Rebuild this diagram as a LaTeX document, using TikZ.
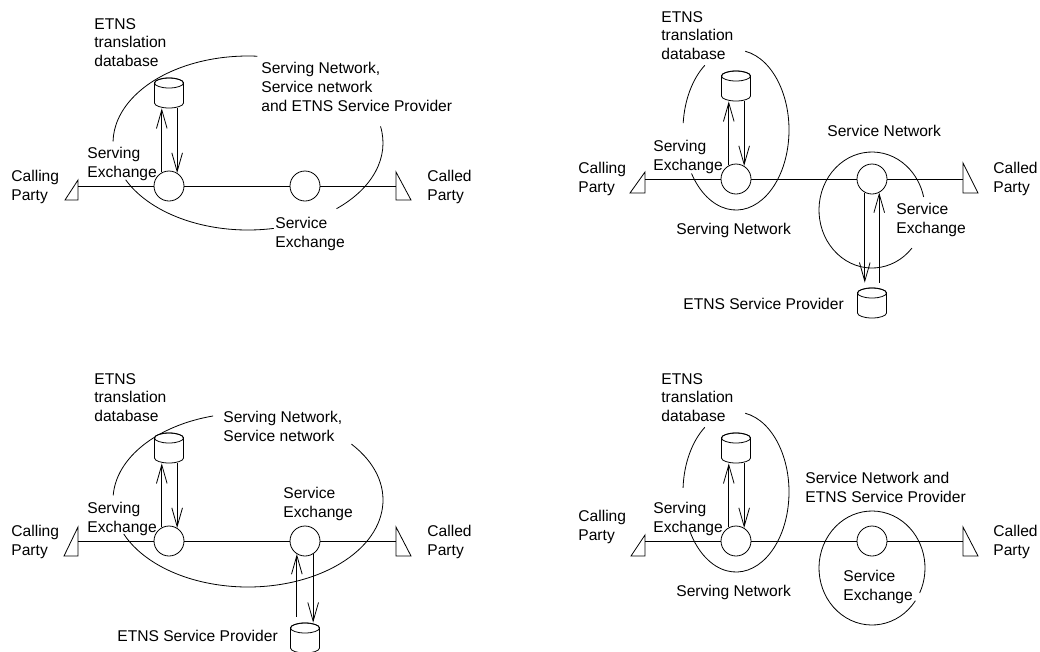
\documentclass[tikz,border=0pt]{standalone}
\usepackage{fontspec}
\setmainfont{Liberation Sans}
\usetikzlibrary{arrows.meta}

\tikzset{
	xchg/.style={circle,draw,fill=white,minimum size=22.5pt,inner sep=0pt},
	dbspot/.style={rectangle,minimum width=21.75pt,minimum height=22.5pt,inner sep=0pt},
	lbl/.style={anchor=north west,inner sep=0pt,align=left,font=\fontsize{11.7}{14}\selectfont},
	flow/.style={-{Straight Barb[length=14pt,width=8pt]}},
}

%Piece of an ellipse: centre (#1,#2), radii #3 and #4, from angle #5 to #6
\newcommand{\ringarc}[6]{\draw ([shift={(#5:#3 and #4)}]#1,#2) arc[start angle=#5,end angle=#6,x radius=#3,y radius=#4];}

%Database drum #1 centred at (#2,#3)
\newcommand{\drum}[3]{%
	\node[dbspot] (#1) at (#2,#3) {};
	\draw[fill=white] ([shift={(-14.5,-10)}]#1.center) -- ++(0,20)
		arc[start angle=180,end angle=0,x radius=14.5,y radius=5] -- ++(0,-20)
		arc[start angle=0,end angle=-180,x radius=14.5,y radius=5] -- cycle;
	\draw ([shift={(0,-10)}]#1.center) ellipse[x radius=14.5,y radius=5];}

\begin{document}
\begin{tikzpicture}[x=0.75pt,y=-0.75pt,line width=0.6pt]

	\useasboundingbox (0,0) rectangle (1040,651);

%%%%%%%%%%%%%%%%%%%%%%%%%%%%%%%%%%%%%%%%%%%%%%%%%%%%%%%%%%%%%%%%%%%%%%%%%
%	Case 1: one network does everything
%%%%%%%%%%%%%%%%%%%%%%%%%%%%%%%%%%%%%%%%%%%%%%%%%%%%%%%%%%%%%%%%%%%%%%%%%

	%Network boundary, broken where the texts are
	\ringarc{248}{143}{135}{87}{181}{274}
	\ringarc{248}{143}{135}{87}{-11}{49}
	\ringarc{248}{143}{135}{87}{79}{155}

	%Parties
	\coordinate (ca1) at (78,186);
	\coordinate (cd1) at (396,186);
	\draw (78,180) -- (78,200) -- (65,200) -- cycle;
	\draw (396,172) -- (396,200) -- (411,200) -- cycle;

	%Exchanges and database
	\node[xchg] (sx1) at (169,186) {};
	\node[xchg] (sv1) at (305,186) {};
	\drum{db1}{169}{93}
	\draw (ca1) -- (sx1) -- (sv1) -- (cd1);
	\draw[flow] (sx1.118) -- (sx1.118 |- db1.south);
	\draw[flow] (sx1.58 |- db1.south) -- (sx1.58);

	%Texts
	\node[lbl] (dbl1) at (94,18) {ETNS\\translation\\database};
	\node[lbl] (cgl1) at (11,170) {Calling\\Party};
	\node[lbl] (sxl1) at (87,147) {Serving\\Exchange};
	\node[lbl] (cdl1) at (427,170) {Called\\Party};
	\node[lbl] (netl1) at (261,62) {Serving Network,\\Service network\\and ETNS Service Provider};
	\node[lbl] (svl1) at (275,217) {Service\\Exchange};

%%%%%%%%%%%%%%%%%%%%%%%%%%%%%%%%%%%%%%%%%%%%%%%%%%%%%%%%%%%%%%%%%%%%%%%%%
%	Case 2: three separate parties
%%%%%%%%%%%%%%%%%%%%%%%%%%%%%%%%%%%%%%%%%%%%%%%%%%%%%%%%%%%%%%%%%%%%%%%%%

	%Serving network and service network
	\ringarc{736}{130}{53}{80}{-80}{147}
	\ringarc{736}{130}{53}{80}{185}{234}
	\ringarc{872}{210}{53}{58}{41}{347}

	%Parties
	\coordinate (ca2) at (645,179);
	\coordinate (cd2) at (963,179);
	\draw (645,172) -- (645,193) -- (630,193) -- cycle;
	\draw (963,163) -- (963,193) -- (978,193) -- cycle;

	%Exchanges and databases
	\node[xchg] (sx2) at (736,179) {};
	\node[xchg] (sv2) at (872,179) {};
	\drum{db2}{736}{86}
	\drum{sp2}{872}{303}
	\draw (ca2) -- (sx2) -- (sv2) -- (cd2);
	\draw[flow] (sx2.118) -- (sx2.118 |- db2.south);
	\draw[flow] (sx2.58 |- db2.south) -- (sx2.58);
	\draw[flow,shorten >=3.75pt] (sv2.242) -- (sv2.242 |- sp2.north);
	\draw[flow,shorten <=3.75pt] (sv2.298 |- sp2.north) -- (sv2.298);

	%Texts
	\node[lbl] (dbl2) at (661,11) {ETNS\\translation\\database};
	\node[lbl] (cgl2) at (578,162) {Calling\\Party};
	\node[lbl] (sxl2) at (653,140) {Serving\\Exchange};
	\node[lbl] (cdl2) at (993,162) {Called\\Party};
	\node[lbl] (snl2) at (827,125) {Service Network};
	\node[lbl] (sgl2) at (676,223) {Serving Network};
	\node[lbl] (svl2) at (896,203) {Service\\Exchange};
	\node[lbl] (spl2) at (683,298) {ETNS Service Provider};

%%%%%%%%%%%%%%%%%%%%%%%%%%%%%%%%%%%%%%%%%%%%%%%%%%%%%%%%%%%%%%%%%%%%%%%%%
%	Case 3: separate ETNS service provider
%%%%%%%%%%%%%%%%%%%%%%%%%%%%%%%%%%%%%%%%%%%%%%%%%%%%%%%%%%%%%%%%%%%%%%%%%

	\ringarc{248}{500}{135}{87}{183}{255}
	\ringarc{248}{500}{135}{87}{-40}{157}

	\coordinate (ca3) at (78,541);
	\coordinate (cd3) at (396,541);
	\draw (78,527) -- (78,556) -- (64,556) -- cycle;
	\draw (396,527) -- (396,556) -- (411,556) -- cycle;

	\node[xchg] (sx3) at (169,541) {};
	\node[xchg] (sv3) at (305,541) {};
	\drum{db3}{169}{448}
	\drum{sp3}{305}{638}
	\draw (ca3) -- (sx3) -- (sv3) -- (cd3);
	\draw[flow] (sx3.118) -- (sx3.118 |- db3.south);
	\draw[flow] (sx3.58 |- db3.south) -- (sx3.58);
	\draw[flow,shorten <=4.5pt] (sv3.238 |- sp3.north) -- (sv3.238);
	\draw[flow] (sv3.302) -- (sv3.302 |- sp3.north);

	\node[lbl] (dbl3) at (94,373) {ETNS\\translation\\database};
	\node[lbl] (cgl3) at (11,525) {Calling\\Party};
	\node[lbl] (sxl3) at (87,502) {Serving\\Exchange};
	\node[lbl] (cdl3) at (427,525) {Called\\Party};
	\node[lbl] (netl3) at (223,411) {Serving Network,\\Service network};
	\node[lbl] (svl3) at (283,487) {Service\\Exchange};
	\node[lbl] (spl3) at (117,630) {ETNS Service Provider};

%%%%%%%%%%%%%%%%%%%%%%%%%%%%%%%%%%%%%%%%%%%%%%%%%%%%%%%%%%%%%%%%%%%%%%%%%
%	Case 4: service network is also the provider
%%%%%%%%%%%%%%%%%%%%%%%%%%%%%%%%%%%%%%%%%%%%%%%%%%%%%%%%%%%%%%%%%%%%%%%%%

	\ringarc{736}{492}{53}{80}{-80}{150}
	\ringarc{736}{492}{53}{80}{183}{234}
	\ringarc{872}{568}{53}{57}{35}{386}

	\coordinate (ca4) at (645,541);
	\coordinate (cd4) at (963,541);
	\draw (645,535) -- (645,556) -- (631,556) -- cycle;
	\draw (963,527) -- (963,556) -- (978,556) -- cycle;

	\node[xchg] (sx4) at (736,541) {};
	\node[xchg] (sv4) at (872,541) {};
	\drum{db4}{736}{448}
	\draw (ca4) -- (sx4) -- (sv4) -- (cd4);
	\draw[flow] (sx4.118) -- (sx4.118 |- db4.south);
	\draw[flow] (sx4.58 |- db4.south) -- (sx4.58);

	\node[lbl] (dbl4) at (661,373) {ETNS\\translation\\database};
	\node[lbl] (cgl4) at (578,510) {Calling\\Party};
	\node[lbl] (sxl4) at (653,502) {Serving\\Exchange};
	\node[lbl] (cdl4) at (993,525) {Called\\Party};
	\node[lbl] (netl4) at (805,472) {Service Network and\\ETNS Service Provider};
	\node[lbl] (sgl4) at (676,585) {Serving Network};
	\node[lbl] (svl4) at (843,570) {Service\\Exchange};

\end{tikzpicture}
\end{document}
